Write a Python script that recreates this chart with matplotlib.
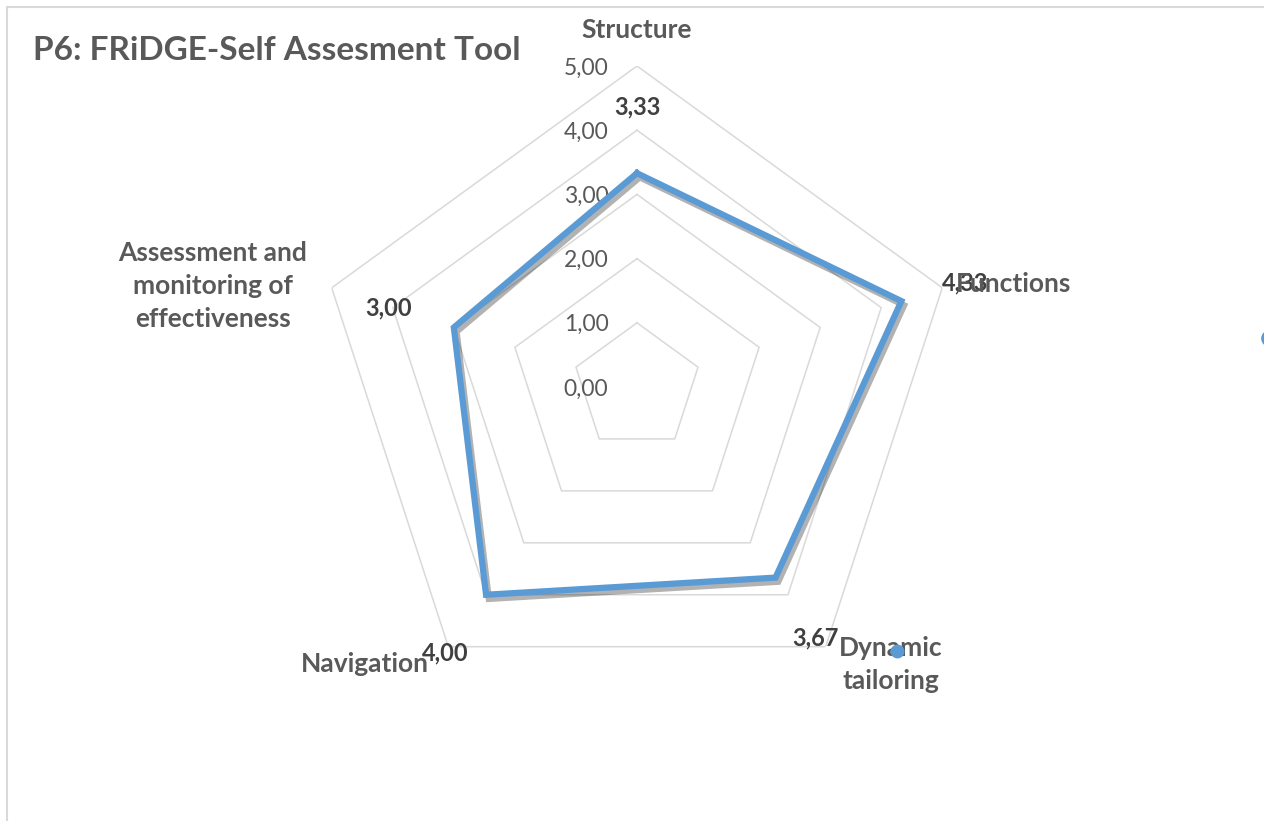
import numpy as np
import matplotlib
matplotlib.use("Agg")
import matplotlib.pyplot as plt
import matplotlib.patheffects as pe
from matplotlib.patches import Rectangle

plt.rcParams['font.family'] = ['Lato', 'DejaVu Sans']

# ---- data ----
categories = ["Structure", "Functions", "Dynamic\ntailoring", "Navigation",
              "Assessment and\nmonitoring of\neffectiveness"]
values = [3.33, 4.33, 3.67, 4.00, 3.00]
value_labels = ["3,33", "4,33", "3,67", "4,00", "3,00"]
ring_values = [0, 1, 2, 3, 4, 5]
ring_labels = ["0,00", "1,00", "2,00", "3,00", "4,00", "5,00"]
title = "P6: FRiDGE-Self Assesment Tool"

TEXT = "#595959"
BLUE = "#5B9BD5"
GRID = "#D9D9D9"

W, H = 1264, 821
fig = plt.figure(figsize=(W / 100, H / 100), dpi=100)
fig.patch.set_facecolor("white")

# chart border (partly cropped on right/bottom)
fig.patches.append(Rectangle((7 / W, -0.05), 1.2, 1 - 7 / H + 0.05,
                             transform=fig.transFigure, fill=False,
                             edgecolor=GRID, linewidth=1.5))

cx, cy, R = 637, 387, 321
ax = fig.add_axes([(cx - R) / W, (H - cy - R) / H, 2 * R / W, 2 * R / H],
                  projection="polar")
ax.set_theta_offset(np.pi / 2)
ax.set_theta_direction(-1)
ax.set_ylim(0, 5)
ax.grid(False)
ax.set_xticks([])
ax.set_yticks([])
ax.spines["polar"].set_visible(False)
ax.patch.set_alpha(0)

n = len(categories)
theta = np.arange(n) * 2 * np.pi / n
theta_c = np.append(theta, theta[0])

# grid rings (pentagons)
for r in ring_values[1:]:
    ax.plot(theta_c, [r] * (n + 1), color=GRID, lw=1.1, zorder=1)

# ring value labels along the first spoke
for r, lab in zip(ring_values, ring_labels):
    ax.annotate(lab, xy=(0, r), xytext=(-51, -2), textcoords="offset pixels",
                ha="center", va="center", fontsize=16.5, color=TEXT)

# data series
vals_c = np.append(values, values[0])
ax.plot(theta_c, vals_c, color=BLUE, lw=4.5, solid_joinstyle="miter", zorder=3,
        path_effects=[pe.SimpleLineShadow(offset=(2, -3), shadow_color="black",
                                          alpha=0.3),
                      pe.Normal()])

# data labels
lab_offsets = [(0, 66), (64, 18), (40, -60), (-41, -58), (-65, 20)]
for t, v, lab, (dx, dy) in zip(theta, values, value_labels, lab_offsets):
    ax.annotate(lab, xy=(t, v), xytext=(dx, dy), textcoords="offset pixels",
                ha="center", va="center", fontsize=17, fontweight="bold",
                color="#404040", zorder=5)

# category labels
cat_offsets = [(0, 36, "center"), (14, 4, "left"), (65, -18, "center"),
               (-19, -17, "right"), (-119, 2, "center")]
for t, lab, (dx, dy, ha) in zip(theta, categories, cat_offsets):
    ax.annotate(lab, xy=(t, 5), xytext=(dx, dy), textcoords="offset pixels",
                ha=ha, va="center", fontsize=19, fontweight="bold",
                color=TEXT, linespacing=1.45, zorder=6)

# stray series markers present in the original picture
fig.add_artist(plt.Line2D([897 / W], [1 - 651 / H], marker="o", markersize=9,
                          color=BLUE, transform=fig.transFigure))
fig.add_artist(plt.Line2D([1269 / W], [1 - 338 / H], marker="o", markersize=11,
                          color=BLUE, transform=fig.transFigure))

fig.text(33 / W, 1 - 50 / H, title, fontsize=24, fontweight="bold",
         color=TEXT, ha="left", va="center")

fig.savefig("out.png", dpi=100)
